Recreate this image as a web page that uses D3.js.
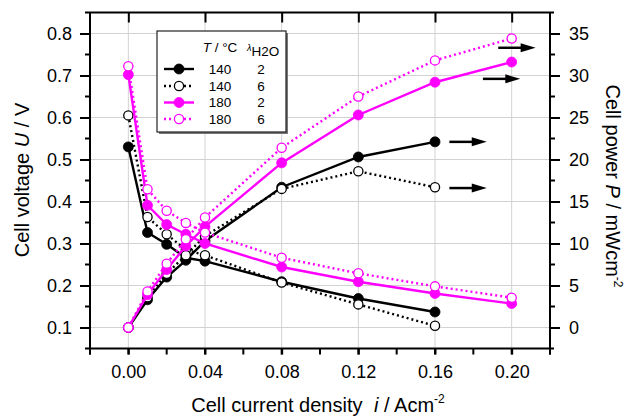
<!DOCTYPE html>
<html><head><meta charset="utf-8">
<script src="https://cdn.jsdelivr.net/npm/d3@7/dist/d3.min.js"></script>
<style>
html,body{margin:0;padding:0;background:#fff;}
svg{display:block;font-family:"Liberation Sans",Arial,Helvetica,sans-serif;}
</style></head>
<body><svg id="chart" width="625" height="418"></svg>
<script>
// ---- data ----
const current = [0, 0.01, 0.02, 0.03, 0.04, 0.08, 0.12, 0.16, 0.20];
const U_140_2 = [0.530, 0.326, 0.298, 0.266, 0.258, 0.209, 0.169, 0.137];
const P_140_2 = [0, 3.3, 6.0, 8.0, 10.3, 16.7, 20.3, 22.1];
const U_140_6 = [0.605, 0.363, 0.322, 0.285, 0.272, 0.207, 0.155, 0.104];
const P_140_6 = [0, 3.6, 6.4, 8.6, 10.9, 16.5, 18.6, 16.7];
const U_180_2 = [0.702, 0.391, 0.345, 0.322, 0.300, 0.244, 0.209, 0.181, 0.157];
const P_180_2 = [0, 3.9, 6.9, 9.7, 12.0, 19.6, 25.3, 29.2, 31.6];
const U_180_6 = [0.722, 0.429, 0.378, 0.349, 0.326, 0.266, 0.229, 0.198, 0.171];
const P_180_6 = [0, 4.3, 7.6, 10.5, 13.1, 21.4, 27.5, 31.8, 34.4];
const seriesT = ["140", "140", "180", "180"];
const seriesLambda = ["2", "6", "2", "6"];
const xTicks = [0.00, 0.04, 0.08, 0.12, 0.16, 0.20];
const uTicks = [0.1, 0.2, 0.3, 0.4, 0.5, 0.6, 0.7, 0.8];
const pTicks = [0, 5, 10, 15, 20, 25, 30, 35];
// arrows pointing to right axis (x start, x end, power level)
const arrowX0 = [0.1675, 0.1675, 0.185, 0.193];
const arrowX1 = [0.187, 0.187, 0.2045, 0.2125];
const arrowP = [22.1, 16.6, 29.6, 33.3];

const svg = d3.select("#chart");
const L = 90, R = 550, T = 12.5, B = 348.5;
const x = d3.scaleLinear().domain([-0.02, 0.22]).range([L, R]);
const yU = d3.scaleLinear().domain([0.05, 0.85]).range([B, T]);
const yP = d3.scaleLinear().domain([-2.5, 37.5]).range([B, T]);

const styles = [
  {color: "#000", dash: null, filled: true},
  {color: "#000", dash: "2,3", filled: false},
  {color: "#ff00ff", dash: null, filled: true},
  {color: "#ff00ff", dash: "2,3", filled: false}
];
const Us = [U_140_2, U_140_6, U_180_2, U_180_6];
const Ps = [P_140_2, P_140_6, P_180_2, P_180_6];

// grid
const grid = svg.append("g");
grid.selectAll("line.gx").data(xTicks).join("line")
  .attr("x1", d => x(d)).attr("x2", d => x(d)).attr("y1", T).attr("y2", B)
  .attr("stroke", "#d2d2d2").attr("stroke-width", 1);
grid.selectAll("line.gy").data(uTicks).join("line")
  .attr("y1", d => yU(d)).attr("y2", d => yU(d)).attr("x1", L).attr("x2", R)
  .attr("stroke", "#d2d2d2").attr("stroke-width", 1);

// axes
const minorX = d3.range(-0.02, 0.2201, 0.02);
const minorU = d3.range(0.15, 0.80, 0.1);
const minorP = d3.range(2.5, 35, 5);

const bottomAx = svg.append("g").attr("transform", `translate(0,${B})`)
  .call(d3.axisBottom(x).tickValues(xTicks).tickFormat(d3.format(".2f")).tickSize(6).tickPadding(11));
bottomAx.select(".domain").remove();
bottomAx.selectAll("text").attr("font-size", 18).attr("fill", "#000");
bottomAx.selectAll(".tick line").attr("stroke-width", 2);
svg.append("g").selectAll("line").data(minorX).join("line")
  .attr("x1", d => x(d)).attr("x2", d => x(d)).attr("y1", B).attr("y2", B + 6)
  .attr("stroke", "#000").attr("stroke-width", 2);

const topAx = svg.append("g").attr("transform", `translate(0,${T})`)
  .call(d3.axisTop(x).tickValues(xTicks).tickFormat("").tickSize(-10));
topAx.select(".domain").remove();
topAx.selectAll(".tick line").attr("stroke-width", 2);

const leftAx = svg.append("g").attr("transform", `translate(${L},0)`)
  .call(d3.axisLeft(yU).tickValues(uTicks).tickFormat(d3.format(".1f")).tickSize(10).tickPadding(8));
leftAx.select(".domain").remove();
leftAx.selectAll("text").attr("font-size", 18).attr("fill", "#000");
leftAx.selectAll(".tick line").attr("stroke-width", 2);
svg.append("g").selectAll("line").data(minorU).join("line")
  .attr("y1", d => yU(d)).attr("y2", d => yU(d)).attr("x1", L - 5).attr("x2", L)
  .attr("stroke", "#000").attr("stroke-width", 2);

const rightAx = svg.append("g").attr("transform", `translate(${R},0)`)
  .call(d3.axisRight(yP).tickValues(pTicks).tickFormat(d3.format("d")).tickSize(10).tickPadding(9));
rightAx.select(".domain").remove();
rightAx.selectAll("text").attr("font-size", 18).attr("fill", "#000");
rightAx.selectAll(".tick line").attr("stroke-width", 2);
svg.append("g").selectAll("line").data(minorP).join("line")
  .attr("y1", d => yP(d)).attr("y2", d => yP(d)).attr("x1", R).attr("x2", R + 5)
  .attr("stroke", "#000").attr("stroke-width", 2);

// frame
const fr = svg.append("g").attr("stroke", "#000").attr("stroke-width", 2);
fr.append("line").attr("x1", L - 5).attr("x2", R + 4).attr("y1", T).attr("y2", T);
fr.append("line").attr("x1", L - 5).attr("x2", R + 4).attr("y1", B).attr("y2", B);
fr.append("line").attr("x1", L).attr("x2", L).attr("y1", T).attr("y2", B + 6);
fr.append("line").attr("x1", R).attr("x2", R).attr("y1", T).attr("y2", B + 6);

// series
const plot = svg.append("g");
function drawSeries(vals, yScale, st) {
  const pts = vals.map((v, i) => [current[i], v]);
  plot.append("path").datum(pts)
    .attr("d", d3.line().x(d => x(d[0])).y(d => yScale(d[1])))
    .attr("fill", "none").attr("stroke", st.color).attr("stroke-width", 2.4)
    .attr("stroke-dasharray", st.dash);
}
function drawMarkers(vals, yScale, st) {
  const pts = vals.map((v, i) => [current[i], v]);
  plot.append("g").selectAll("circle").data(pts).join("circle")
    .attr("cx", d => x(d[0])).attr("cy", d => yScale(d[1]))
    .attr("r", st.filled ? 5 : 4.6)
    .attr("fill", st.filled ? st.color : "#fff")
    .attr("stroke", st.color).attr("stroke-width", st.filled ? 0.8 : 1.3);
}
[0, 1, 2, 3].forEach(k => {
  drawSeries(Us[k], yU, styles[k]);
  drawSeries(Ps[k], yP, styles[k]);
  drawMarkers(Us[k], yU, styles[k]);
  drawMarkers(Ps[k], yP, styles[k]);
});

// arrows
const arr = svg.append("g");
arrowP.forEach((p, i) => {
  const x0 = x(arrowX0[i]), x1 = x(arrowX1[i]), yy = yP(p);
  arr.append("line").attr("x1", x0).attr("x2", x1 - 12).attr("y1", yy).attr("y2", yy)
    .attr("stroke", "#000").attr("stroke-width", 2.5);
  arr.append("path").attr("d", `M${x1 - 15},${yy - 4.5}L${x1},${yy}L${x1 - 15},${yy + 4.5}Z`).attr("fill", "#000");
});

// legend
const lg = svg.append("g");
lg.append("rect").attr("x", 159).attr("y", 33).attr("width", 129).attr("height", 101).attr("fill", "#777");
lg.append("rect").attr("x", 157).attr("y", 31).attr("width", 129).attr("height", 101)
  .attr("fill", "#fff").attr("stroke", "#222").attr("stroke-width", 1.2);
const h1 = lg.append("text").attr("x", 220).attr("y", 52).attr("font-size", 13.5).attr("text-anchor", "middle");
h1.append("tspan").attr("font-style", "italic").text("T");
h1.append("tspan").text(" / °C");
const h2 = lg.append("text").attr("x", 247).attr("y", 51).attr("font-size", 9);
h2.append("tspan").attr("font-style", "italic").text("λ");
h2.append("tspan").attr("font-size", 13.5).attr("dy", 5).text("H2O");
const rowY = [69, 86, 102.5, 119];
rowY.forEach((ry, k) => {
  const st = styles[k];
  lg.append("line").attr("x1", 164).attr("x2", 194).attr("y1", ry).attr("y2", ry)
    .attr("stroke", st.color).attr("stroke-width", 2.4).attr("stroke-dasharray", st.dash);
  lg.append("circle").attr("cx", 179).attr("cy", ry).attr("r", st.filled ? 5 : 4.6)
    .attr("fill", st.filled ? st.color : "#fff").attr("stroke", st.color)
    .attr("stroke-width", st.filled ? 0.8 : 1.3);
  lg.append("text").attr("x", 220).attr("y", ry + 4.8).attr("font-size", 13.5)
    .attr("text-anchor", "middle").text(seriesT[k]);
  lg.append("text").attr("x", 261).attr("y", ry + 4.8).attr("font-size", 13.5)
    .attr("text-anchor", "middle").text(seriesLambda[k]);
});

// axis titles
const tl = svg.append("text").attr("transform", "translate(29,180) rotate(-90)")
  .attr("text-anchor", "middle").attr("font-size", 20);
tl.append("tspan").text("Cell voltage ");
tl.append("tspan").attr("font-style", "italic").text("U");
tl.append("tspan").text(" / V");

const tr = svg.append("text").attr("transform", "translate(606,186) rotate(90)")
  .attr("text-anchor", "middle").attr("font-size", 20);
tr.append("tspan").text("Cell power ");
tr.append("tspan").attr("font-style", "italic").text("P");
tr.append("tspan").text(" / mWcm");
tr.append("tspan").attr("font-size", 12).attr("dy", -8).text("-2");

const tb = svg.append("text").attr("x", 318).attr("y", 412)
  .attr("text-anchor", "middle").attr("font-size", 20);
tb.append("tspan").text("Cell current density ");
tb.append("tspan").attr("font-style", "italic").attr("dx", 6).text("i");
tb.append("tspan").text(" / Acm");
tb.append("tspan").attr("font-size", 12).attr("dy", -9).text("-2");
</script></body></html>
